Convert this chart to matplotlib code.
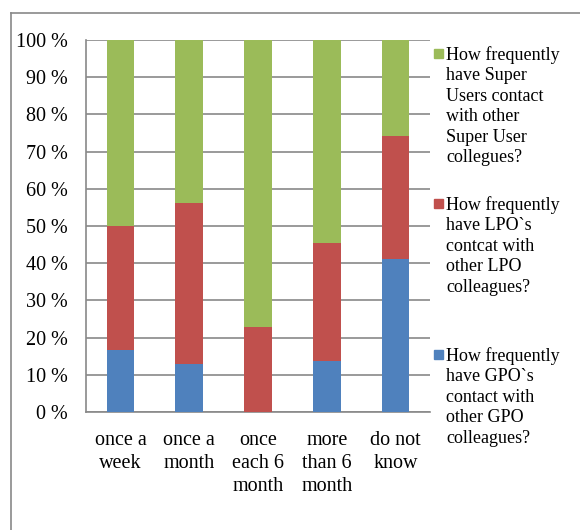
import numpy as np
import matplotlib
matplotlib.use('Agg')
import matplotlib.pyplot as plt
from matplotlib.patches import Rectangle
from matplotlib.lines import Line2D

plt.rcParams['font.family'] = ['Liberation Serif', 'DejaVu Serif']

categories = ['once a\nweek', 'once a\nmonth', 'once\neach 6\nmonth', 'more\nthan 6\nmonth', 'do not\nknow']
gpo = [16.7, 12.9, 0.0, 13.6, 41.2]
lpo = [33.3, 43.4, 22.8, 31.8, 33.1]
super_users = [50.0, 43.7, 77.2, 54.6, 25.7]
series_labels = [
    'How frequently\nhave Super\nUsers contact\nwith other\nSuper User\ncollegues?',
    'How frequently\nhave LPO`s\ncontcat with\nother LPO\ncolleagues?',
    'How frequently\nhave GPO`s\ncontact with\nother GPO\ncolleagues?',
]
yticks = [0, 10, 20, 30, 40, 50, 60, 70, 80, 90, 100]

green, red, blue = '#9BBB59', '#C0504D', '#4F81BD'
grey = '#898989'
fs = 14.5
fs_leg = 13

fig = plt.figure(figsize=(5.8, 5.3), dpi=100)
W, H = 580, 530
ax = fig.add_axes([86 / W, 1 - 412 / H, 344 / W, 372 / H])

x = np.arange(len(categories))
w = 0.40
ax.bar(x, gpo, w, color=blue, zorder=3)
ax.bar(x, lpo, w, bottom=gpo, color=red, zorder=3)
ax.bar(x, super_users, w, bottom=np.add(gpo, lpo), color=green, zorder=3)

ax.set_xlim(-0.5, len(categories) - 0.5)
ax.set_ylim(0, 100)
ax.set_yticks(yticks)
ax.set_yticklabels([f'{v} %' for v in yticks], fontsize=fs)
ax.set_xticks(x)
ax.set_xticklabels(categories, fontsize=fs, linespacing=1.28)
ax.tick_params(axis='both', length=0)
ax.tick_params(axis='y', pad=13)
ax.tick_params(axis='x', pad=14)
ax.yaxis.grid(True, color=grey, lw=1.2, zorder=0)
for s in ['top', 'right']:
    ax.spines[s].set_visible(False)
for s in ['left', 'bottom']:
    ax.spines[s].set_color(grey)
    ax.spines[s].set_linewidth(1.2)

# legend drawn by hand, Excel style
colors = [green, red, blue]
tops = [53, 203, 354]
for lab, c, t in zip(series_labels, colors, tops):
    fig.add_artist(Rectangle((434 / W, 1 - (t + 4.5) / H), 9 / W, 9 / H,
                             transform=fig.transFigure, color=c))
    fig.text(446 / W, 1 - (t - 7) / H, lab, fontsize=fs_leg, va='top', ha='left',
             linespacing=1.27)

# outer chart frame (cropped on right and bottom)
fig.add_artist(Line2D([11 / W, 11 / W], [0, 1 - 13 / H], transform=fig.transFigure,
                      color=grey, lw=1.2))
fig.add_artist(Line2D([11 / W, 1], [1 - 13 / H, 1 - 13 / H], transform=fig.transFigure,
                      color=grey, lw=1.2))

fig.savefig('out.png', dpi=100)
